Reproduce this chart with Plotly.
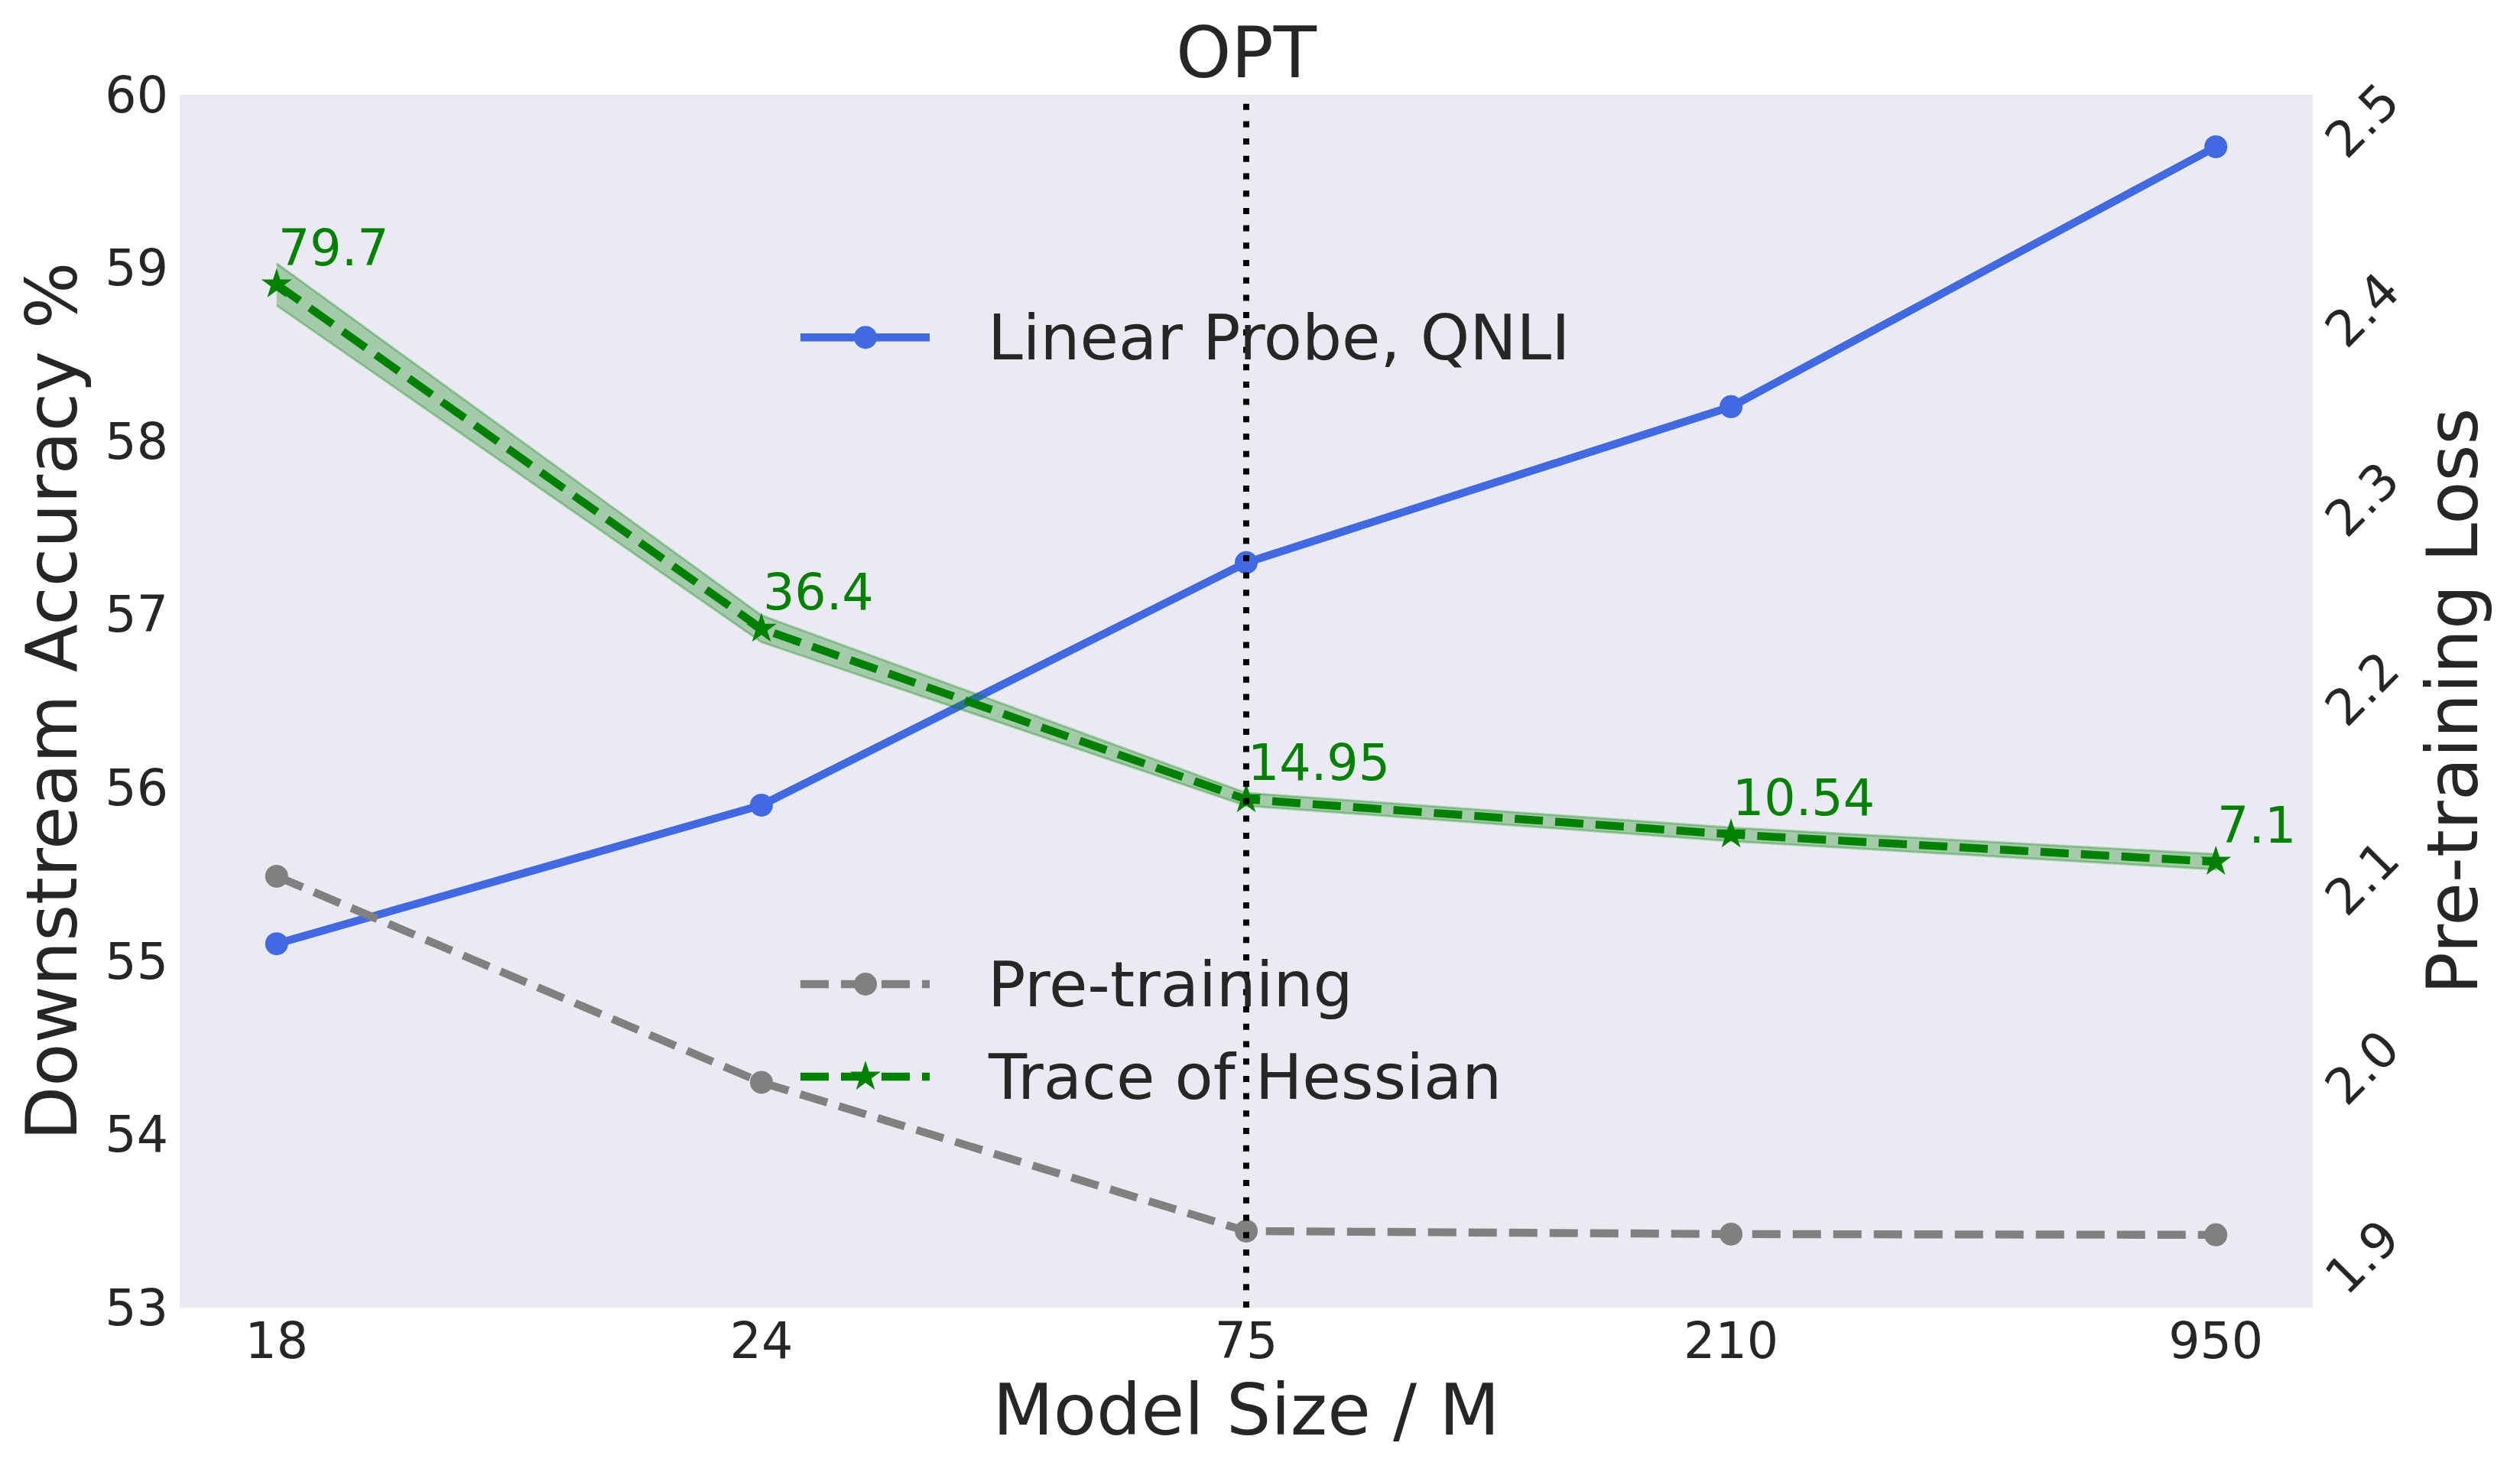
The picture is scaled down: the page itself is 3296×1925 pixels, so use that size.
import plotly.graph_objects as go

# ---------------- data ----------------
model_sizes = ["18", "24", "75", "210", "950"]
linear_probe_acc = [55.1, 55.9, 57.3, 58.2, 59.7]          # left axis (%)
pretrain_loss = [2.1015, 1.9927, 1.9142, 1.9126, 1.9122]   # right axis
hessian_trace = [79.7, 36.4, 14.95, 10.54, 7.1]            # hidden third axis
hessian_err = [2.64, 1.68, 0.80, 0.85, 0.96]
hessian_labels = ["79.7", "36.4", "14.95", "10.54", "7.1"]
left_ticks = [53, 54, 55, 56, 57, 58, 59, 60]
right_ticks = [1.9, 2.0, 2.1, 2.2, 2.3, 2.4, 2.5]
marker_model = "75"

BLUE = "#4169E1"
GRAY = "#808080"
GREEN = "#008000"
TXT = "#262626"
FONT = "DejaVu Sans"
LW = 10.4
DASH = "37px,16px"
STAR = 30

fig = go.Figure()

# Linear probe (left axis)
fig.add_trace(go.Scatter(
    x=model_sizes, y=linear_probe_acc, mode="lines+markers",
    line=dict(color=BLUE, width=LW), marker=dict(color=BLUE, size=30),
    showlegend=False, xaxis="x", yaxis="y"))

# Pre-training loss (right axis)
fig.add_trace(go.Scatter(
    x=model_sizes, y=pretrain_loss, mode="lines+markers",
    line=dict(color=GRAY, width=LW, dash=DASH), marker=dict(color=GRAY, size=30),
    showlegend=False, xaxis="x", yaxis="y2"))

# Hessian trace band (hidden axis)
upper = [v + e for v, e in zip(hessian_trace, hessian_err)]
lower = [v - e for v, e in zip(hessian_trace, hessian_err)]
fig.add_trace(go.Scatter(
    x=model_sizes + model_sizes[::-1], y=upper + lower[::-1],
    mode="lines", fill="toself", fillcolor="rgba(0,128,0,0.3)",
    line=dict(color="rgba(0,128,0,0.3)", width=3),
    showlegend=False, hoverinfo="skip", xaxis="x", yaxis="y3"))
fig.add_trace(go.Scatter(
    x=model_sizes, y=hessian_trace, mode="lines+markers",
    line=dict(color=GREEN, width=LW, dash=DASH),
    marker=dict(color=GREEN, size=STAR, symbol="star"),
    showlegend=False, xaxis="x", yaxis="y3"))

# value labels (category index used as annotation x)
for i, (v, t) in enumerate(zip(hessian_trace, hessian_labels)):
    fig.add_annotation(x=i, y=v, xref="x", yref="y3", text=t, showarrow=False,
                       xanchor="left", yanchor="bottom", xshift=0, yshift=8,
                       font=dict(family=FONT, size=65, color=GREEN))

# ---------------- legends (handles on an invisible overlay axis) ----------------
legend_items = [
    ("Linear Probe, QNLI", BLUE, "solid", "circle", 30, 0.800),
    ("Pre-training", GRAY, DASH, "circle", 30, 0.2667),
    ("Trace of Hessian", GREEN, DASH, "star", STAR, 0.1904),
]
hx0, hxm, hx1, tx = 0.2910, 0.3215, 0.3516, 0.3781
for name, col, dash, sym, msz, yy in legend_items:
    fig.add_trace(go.Scatter(x=[hx0, hx1], y=[yy, yy], mode="lines",
                             line=dict(color=col, width=LW, dash=dash),
                             showlegend=False, hoverinfo="skip", xaxis="x2", yaxis="y4"))
    fig.add_trace(go.Scatter(x=[hxm], y=[yy], mode="markers",
                             marker=dict(color=col, size=msz, symbol=sym),
                             showlegend=False, hoverinfo="skip", xaxis="x2", yaxis="y4"))
    fig.add_annotation(x=tx, y=yy, xref="x2", yref="y4", text=name, showarrow=False,
                       xanchor="left", yanchor="middle",
                       font=dict(family=FONT, size=82, color=TXT))

# vertical dotted line at 75M
fig.add_shape(type="line", xref="x", yref="paper",
              x0=model_sizes.index(marker_model), x1=model_sizes.index(marker_model),
              y0=0, y1=1, layer="above",
              line=dict(color="black", width=8, dash="8px,14.7px"))

fig.update_layout(
    width=3296, height=1925,
    margin=dict(l=235, r=271, t=124, b=215, pad=0),
    plot_bgcolor="#EAEAF2", paper_bgcolor="white",
    font=dict(family=FONT, color=TXT),
    title=dict(text="OPT", x=0.5, xref="paper", xanchor="center",
               y=1, yref="paper", yanchor="bottom", pad=dict(b=23),
               font=dict(family=FONT, size=92, color=TXT)),
    xaxis=dict(type="category", range=[-0.2, 4.2], showgrid=False, zeroline=False,
               showline=False, ticks="", tickfont=dict(size=65, color=TXT),
               title=dict(text="Model Size / M", font=dict(size=92, color=TXT), standoff=8),
               automargin=False),
    yaxis=dict(range=[53, 60], tickvals=left_ticks, showgrid=False, zeroline=False,
               showline=False, ticks="", tickfont=dict(size=65, color=TXT),
               ticklabelstandoff=14,
               title=dict(text="Downstream Accuracy %", font=dict(size=92, color=TXT), standoff=6),
               automargin=False),
    yaxis2=dict(range=[1.8738, 2.514], tickvals=right_ticks,
                ticktext=[f"{t:.1f}" for t in right_ticks],
                overlaying="y", side="right", anchor="x", showgrid=False, zeroline=False,
                showline=False, ticks="", tickangle=-45, tickfont=dict(size=65, color=TXT),
                ticklabelstandoff=20, ticklabelshift=38,
                title=dict(text="Pre-training Loss", font=dict(size=92, color=TXT), standoff=23),
                automargin=False),
    yaxis3=dict(range=[-48.96, 103.54], overlaying="y", visible=False, anchor="x"),
    xaxis2=dict(range=[0, 1], overlaying="x", visible=False, anchor="y4"),
    yaxis4=dict(range=[0, 1], overlaying="y", visible=False, anchor="x2"),
)

fig.write_html("out.html")
